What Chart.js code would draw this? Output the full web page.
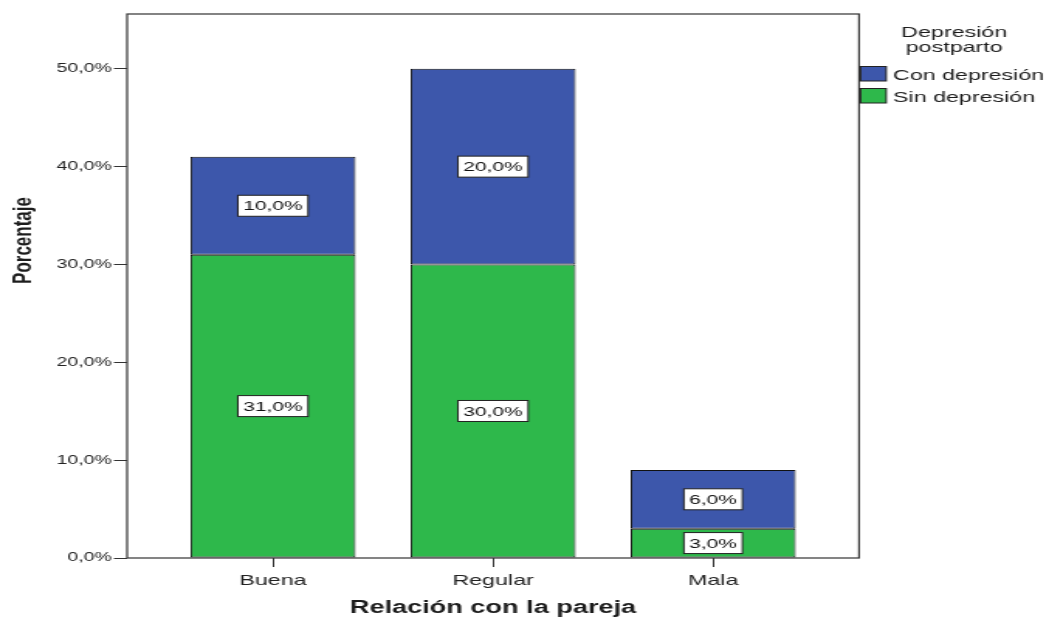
<!DOCTYPE html>
<html>
<head>
<meta charset="utf-8">
<script src="https://cdn.jsdelivr.net/npm/chart.js@4.4.1/dist/chart.umd.min.js"></script>
<style>
  html, body { margin: 0; padding: 0; background: #fff; overflow: hidden; }
  #wrap { width: 1049px; height: 620px; overflow: hidden; }
  /* the chart is laid out on a narrower canvas and widened, giving the wide lettering */
  canvas { display: block; transform-origin: 0 0; transform: scaleX(1.5495); }
</style>
</head>
<body>
<div id="wrap"><canvas id="c" width="677" height="620"></canvas></div>
<script>
// Relación con la pareja × Depresión postparto (porcentajes)
const categories = ['Buena', 'Regular', 'Mala'];
const sinDepresion = [31, 30, 3];
const conDepresion = [10, 20, 6];
const yTickValues = [0, 10, 20, 30, 40, 50];
const seriesNames = ['Sin depresión', 'Con depresión'];
const legendTitle = ['Depresión', 'postparto'];
const yTitle = 'Porcentaje';
const xTitle = 'Relación con la pareja';

const COLOR_SIN = '#2EB84B';
const COLOR_CON = '#3D57AB';
const INK = '#1c1c1c';
const FONT = '"Liberation Sans", Arial, sans-serif';

const fmt = v => v.toFixed(1).replace('.', ',') + '%';

// frame around the plot area
const plotFrame = {
  id: 'plotFrame',
  beforeDatasetsDraw(chart) {
    const { ctx, chartArea: a } = chart;
    ctx.save();
    ctx.strokeStyle = '#333';
    ctx.lineWidth = 1.2;
    ctx.strokeRect(a.left, a.top, a.right - a.left, a.bottom - a.top);
    ctx.restore();
  }
};

// boxed value labels in the middle of each segment
const segmentLabels = {
  id: 'segmentLabels',
  afterDatasetsDraw(chart) {
    const ctx = chart.ctx;
    ctx.save();
    ctx.font = '13.5px ' + FONT;
    ctx.textAlign = 'center';
    ctx.textBaseline = 'middle';
    chart.data.datasets.forEach((ds, i) => {
      chart.getDatasetMeta(i).data.forEach((bar, j) => {
        const text = fmt(ds.data[j].y);
        const cx = bar.x;
        const cy = (bar.y + bar.base) / 2;
        const w = ctx.measureText(text).width + 7;
        const h = 21;
        ctx.fillStyle = '#ffffff';
        ctx.fillRect(cx - w / 2, cy - h / 2, w, h);
        ctx.strokeStyle = '#222';
        ctx.lineWidth = 1;
        ctx.strokeRect(cx - w / 2, cy - h / 2, w, h);
        ctx.fillStyle = '#111';
        ctx.fillText(text, cx, cy + 1);
      });
    });
    ctx.restore();
  }
};

// vertical axis title and the legend at the top right
const sideTexts = {
  id: 'sideTexts',
  afterDraw(chart) {
    const { ctx, chartArea: a } = chart;
    ctx.save();
    // y title
    ctx.fillStyle = INK;
    ctx.font = 'bold 17px ' + FONT;
    ctx.textAlign = 'center';
    ctx.textBaseline = 'alphabetic';
    ctx.translate(19.6, 240.5);
    ctx.rotate(-Math.PI / 2);
    ctx.fillText(yTitle, 0, 0);
    ctx.setTransform(1, 0, 0, 1, 0, 0);

    // legend title
    ctx.font = '15px ' + FONT;
    ctx.textAlign = 'center';
    ctx.fillText(legendTitle[0], 615.8, 36.5);
    ctx.fillText(legendTitle[1], 615.8, 51.5);

    // legend items, top of the stack first
    const items = chart.data.datasets.slice().reverse();
    items.forEach((ds, k) => {
      const y = 66.5 + k * 22;
      ctx.fillStyle = ds.backgroundColor;
      ctx.fillRect(a.right + 1, y, 16.5, 14.5);
      ctx.strokeStyle = '#222';
      ctx.lineWidth = 1;
      ctx.strokeRect(a.right + 1, y, 16.5, 14.5);
      ctx.fillStyle = INK;
      ctx.textAlign = 'left';
      ctx.fillText(ds.label, 576.3, y + 13);
    });
    ctx.restore();
  }
};

new Chart(document.getElementById('c'), {
  type: 'bar',
  data: {
    datasets: [
      {
        label: seriesNames[0],
        data: sinDepresion.map((v, i) => ({ x: i, y: v })),
        backgroundColor: COLOR_SIN,
        borderColor: '#111',
        borderWidth: 1,
        borderSkipped: false
      },
      {
        label: seriesNames[1],
        data: conDepresion.map((v, i) => ({ x: i, y: v })),
        backgroundColor: COLOR_CON,
        borderColor: '#111',
        borderWidth: 1,
        borderSkipped: false
      }
    ]
  },
  options: {
    responsive: false,
    maintainAspectRatio: false,
    animation: false,
    events: [],
    layout: { padding: { left: 0, top: 14, right: 122.6, bottom: 0 } },
    datasets: { bar: { categoryPercentage: 1, barPercentage: 0.75 } },
    plugins: { legend: { display: false }, tooltip: { enabled: false } },
    scales: {
      x: {
        type: 'linear',
        stacked: true,
        offset: false,
        min: -0.663,
        max: 2.663,
        afterBuildTicks: s => { s.ticks = categories.map((_, i) => ({ value: i })); },
        afterFit: s => { s.height = 62; },
        grid: { drawOnChartArea: false, offset: false, tickLength: 9, color: '#333', tickWidth: 1 },
        border: { display: false },
        ticks: {
          padding: 5,
          color: '#222',
          font: { family: FONT, size: 15 },
          callback: v => categories[v] ?? ''
        },
        title: {
          display: true,
          text: xTitle,
          color: INK,
          font: { family: FONT, size: 17.5, weight: 'bold' },
          padding: { top: 0, bottom: 1 }
        }
      },
      y: {
        stacked: true,
        min: 0,
        max: 55.6,
        afterBuildTicks: s => { s.ticks = yTickValues.map(v => ({ value: v })); },
        afterFit: s => { s.width = 82; },
        grid: { drawOnChartArea: false, tickLength: 8.5, color: '#333', tickWidth: 1 },
        border: { display: false },
        ticks: {
          padding: 1.5,
          color: '#222',
          font: { family: FONT, size: 12.5 },
          callback: v => fmt(v)
        }
      }
    }
  },
  plugins: [plotFrame, segmentLabels, sideTexts]
});
</script>
</body>
</html>
